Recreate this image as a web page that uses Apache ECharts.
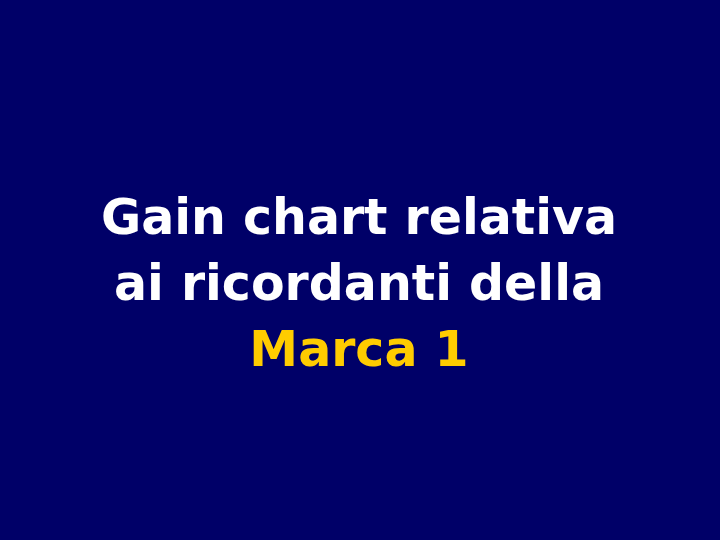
<!DOCTYPE html>
<html>
<head>
<meta charset="utf-8">
<script src="https://cdn.jsdelivr.net/npm/echarts@6/dist/echarts.min.js"></script>
<style>
html,body{margin:0;padding:0;background:#000068;}
#c{width:720px;height:540px;}
</style>
</head>
<body>
<div id="c"></div>
<script>
var titleLines = ["Gain chart relativa", "ai ricordanti della"];
var highlightLine = "Marca 1";
var bgColor = "#000068";

var chart = echarts.init(document.getElementById('c'));
var els = [];
var baseY = 221, step = 66;
var font = 'bold 49px "DejaVu Sans"';
titleLines.forEach(function (t, i) {
  els.push({
    type: 'text', x: 359, y: baseY + i * step,
    style: { text: t, fill: '#ffffff', font: font, align: 'center', verticalAlign: 'middle' }
  });
});
els.push({
  type: 'text', x: 359, y: baseY + titleLines.length * step,
  style: { text: highlightLine, fill: '#ffcc00', font: font, align: 'center', verticalAlign: 'middle' }
});
chart.setOption({
  backgroundColor: bgColor,
  graphic: { elements: els }
});
</script>
</body>
</html>
